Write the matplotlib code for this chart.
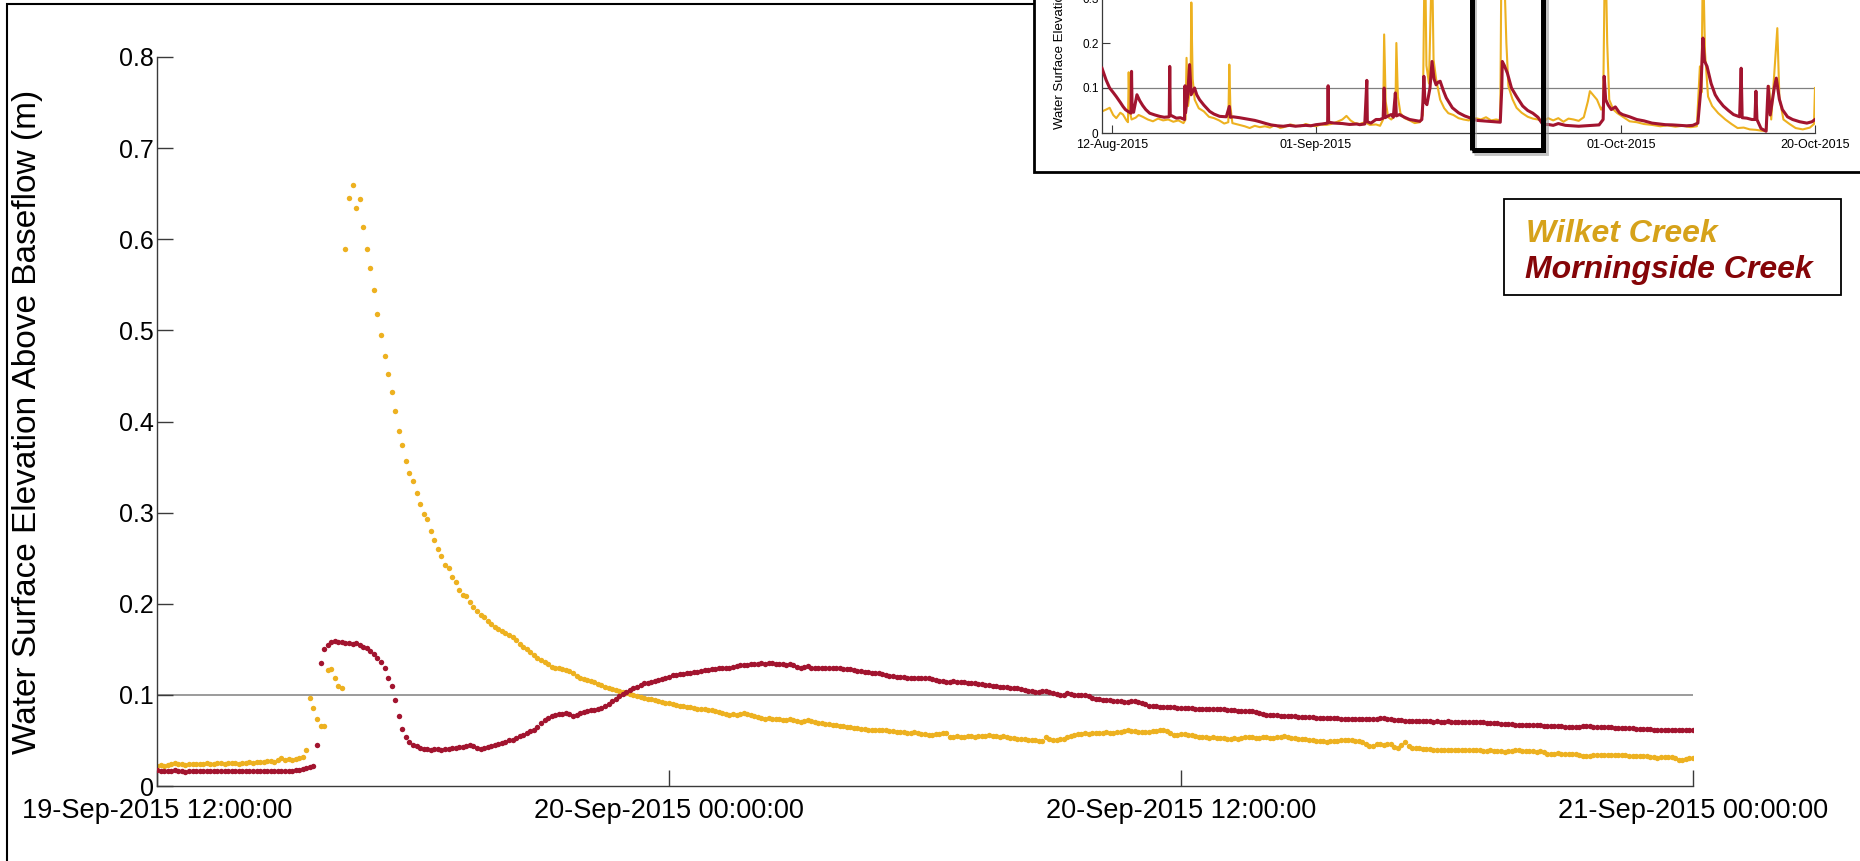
import numpy as np
import matplotlib
matplotlib.use('Agg')
import matplotlib.pyplot as plt
from matplotlib.patches import Rectangle
from datetime import datetime, timedelta

plt.rcParams['font.family'] = ['Liberation Sans', 'DejaVu Sans']

# --- 5-minute readings from 19-Sep-2015 12:00:00, one row per hour (m above baseflow)
wilket_level = [
    [0.022, 0.023, 0.022, 0.023, 0.024, 0.025, 0.024, 0.024, 0.023, 0.024, 0.024, 0.024],
    [0.024, 0.024, 0.025, 0.024, 0.024, 0.025, 0.025, 0.024, 0.025, 0.025, 0.025, 0.024],
    [0.025, 0.025, 0.026, 0.025, 0.026, 0.026, 0.026, 0.027, 0.027, 0.026, 0.028, 0.031],
    [0.029, 0.030, 0.029, 0.030, 0.031, 0.032, 0.040, 0.097, 0.086, 0.073, 0.066, 0.066],
    [0.127, 0.128, 0.119, 0.110, 0.108, 0.589, 0.645, 0.659, 0.634, 0.644, 0.613, 0.589],
    [0.568, 0.544, 0.518, 0.495, 0.472, 0.452, 0.432, 0.411, 0.390, 0.374, 0.357, 0.343],
    [0.335, 0.322, 0.310, 0.299, 0.293, 0.280, 0.270, 0.260, 0.252, 0.242, 0.239, 0.229],
    [0.224, 0.215, 0.210, 0.208, 0.202, 0.196, 0.192, 0.188, 0.185, 0.181, 0.178, 0.175],
    [0.172, 0.170, 0.168, 0.166, 0.163, 0.160, 0.156, 0.153, 0.150, 0.147, 0.144, 0.141],
    [0.138, 0.136, 0.134, 0.131, 0.130, 0.129, 0.128, 0.127, 0.126, 0.124, 0.121, 0.118],
    [0.117, 0.116, 0.115, 0.114, 0.112, 0.111, 0.109, 0.107, 0.106, 0.105, 0.104, 0.103],
    [0.102, 0.101, 0.100, 0.099, 0.098, 0.097, 0.096, 0.095, 0.094, 0.093, 0.092, 0.091],
    [0.091, 0.090, 0.089, 0.088, 0.088, 0.087, 0.087, 0.086, 0.085, 0.084, 0.084, 0.083],
    [0.083, 0.082, 0.081, 0.080, 0.079, 0.078, 0.079, 0.078, 0.079, 0.080, 0.079, 0.078],
    [0.077, 0.076, 0.075, 0.074, 0.075, 0.074, 0.073, 0.073, 0.072, 0.072, 0.073, 0.072],
    [0.071, 0.070, 0.071, 0.072, 0.071, 0.070, 0.069, 0.069, 0.068, 0.068, 0.067, 0.067],
    [0.066, 0.066, 0.065, 0.065, 0.064, 0.064, 0.063, 0.063, 0.062, 0.062, 0.062, 0.061],
    [0.061, 0.061, 0.060, 0.060, 0.059, 0.059, 0.059, 0.058, 0.058, 0.059, 0.058, 0.057],
    [0.057, 0.056, 0.056, 0.057, 0.057, 0.058, 0.058, 0.054, 0.054, 0.055, 0.054, 0.054],
    [0.055, 0.055, 0.054, 0.055, 0.055, 0.055, 0.056, 0.055, 0.055, 0.054, 0.055, 0.054],
    [0.053, 0.053, 0.052, 0.052, 0.052, 0.051, 0.051, 0.050, 0.049, 0.049, 0.054, 0.052],
    [0.051, 0.051, 0.052, 0.052, 0.054, 0.055, 0.056, 0.057, 0.057, 0.058, 0.057, 0.058],
    [0.058, 0.058, 0.058, 0.059, 0.058, 0.058, 0.059, 0.059, 0.060, 0.061, 0.060, 0.060],
    [0.059, 0.059, 0.059, 0.059, 0.060, 0.060, 0.061, 0.062, 0.060, 0.058, 0.056, 0.056],
    [0.057, 0.057, 0.056, 0.056, 0.055, 0.054, 0.054, 0.054, 0.053, 0.054, 0.053, 0.053],
    [0.053, 0.052, 0.052, 0.053, 0.052, 0.053, 0.054, 0.054, 0.054, 0.053, 0.053, 0.054],
    [0.054, 0.053, 0.053, 0.054, 0.054, 0.055, 0.054, 0.053, 0.053, 0.052, 0.052, 0.052],
    [0.051, 0.050, 0.049, 0.049, 0.049, 0.048, 0.049, 0.049, 0.049, 0.050, 0.050, 0.050],
    [0.050, 0.049, 0.049, 0.048, 0.046, 0.044, 0.044, 0.046, 0.046, 0.045, 0.046, 0.046],
    [0.043, 0.042, 0.045, 0.048, 0.044, 0.042, 0.042, 0.042, 0.041, 0.041, 0.041, 0.040],
    [0.040, 0.040, 0.040, 0.039, 0.039, 0.039, 0.039, 0.040, 0.040, 0.040, 0.040, 0.039],
    [0.039, 0.038, 0.038, 0.039, 0.038, 0.038, 0.038, 0.037, 0.038, 0.038, 0.039, 0.039],
    [0.038, 0.038, 0.038, 0.038, 0.037, 0.038, 0.037, 0.035, 0.035, 0.035, 0.036, 0.035],
    [0.035, 0.035, 0.035, 0.035, 0.034, 0.033, 0.033, 0.033, 0.034, 0.034, 0.034, 0.034],
    [0.034, 0.034, 0.034, 0.034, 0.034, 0.034, 0.033, 0.033, 0.033, 0.033, 0.033, 0.033],
    [0.032, 0.032, 0.031, 0.032, 0.032, 0.032, 0.032, 0.031, 0.029, 0.029, 0.030, 0.031],
    [0.031],
]

morningside_level = [
    [0.018, 0.017, 0.017, 0.016, 0.017, 0.018, 0.016, 0.016, 0.015, 0.016, 0.016, 0.016],
    [0.017, 0.016, 0.016, 0.016, 0.017, 0.016, 0.016, 0.017, 0.017, 0.016, 0.016, 0.016],
    [0.017, 0.017, 0.016, 0.016, 0.017, 0.016, 0.016, 0.016, 0.016, 0.016, 0.017, 0.016],
    [0.016, 0.017, 0.017, 0.018, 0.018, 0.019, 0.020, 0.021, 0.022, 0.045, 0.135, 0.150],
    [0.155, 0.158, 0.159, 0.158, 0.158, 0.157, 0.157, 0.156, 0.157, 0.155, 0.153, 0.151],
    [0.148, 0.145, 0.141, 0.136, 0.129, 0.119, 0.110, 0.094, 0.077, 0.063, 0.054, 0.048],
    [0.045, 0.044, 0.042, 0.041, 0.041, 0.040, 0.041, 0.041, 0.040, 0.041, 0.041, 0.042],
    [0.042, 0.043, 0.043, 0.044, 0.045, 0.044, 0.042, 0.041, 0.042, 0.043, 0.044, 0.045],
    [0.046, 0.047, 0.048, 0.050, 0.051, 0.053, 0.055, 0.056, 0.058, 0.060, 0.062, 0.065],
    [0.069, 0.072, 0.075, 0.077, 0.078, 0.079, 0.079, 0.080, 0.079, 0.077, 0.078, 0.080],
    [0.081, 0.082, 0.083, 0.083, 0.085, 0.086, 0.088, 0.090, 0.093, 0.096, 0.099, 0.101],
    [0.103, 0.105, 0.107, 0.109, 0.111, 0.113, 0.113, 0.114, 0.115, 0.116, 0.117, 0.118],
    [0.120, 0.122, 0.122, 0.123, 0.123, 0.124, 0.124, 0.125, 0.125, 0.126, 0.127, 0.127],
    [0.128, 0.128, 0.129, 0.129, 0.129, 0.130, 0.131, 0.132, 0.133, 0.133, 0.133, 0.134],
    [0.134, 0.134, 0.135, 0.134, 0.135, 0.135, 0.134, 0.134, 0.134, 0.133, 0.134, 0.133],
    [0.131, 0.130, 0.131, 0.132, 0.130, 0.129, 0.129, 0.129, 0.130, 0.129, 0.129, 0.129],
    [0.129, 0.128, 0.128, 0.128, 0.127, 0.126, 0.126, 0.125, 0.125, 0.124, 0.124, 0.124],
    [0.123, 0.122, 0.121, 0.121, 0.120, 0.120, 0.120, 0.119, 0.119, 0.119, 0.119, 0.119],
    [0.119, 0.118, 0.117, 0.116, 0.115, 0.115, 0.114, 0.114, 0.115, 0.114, 0.114, 0.114],
    [0.113, 0.113, 0.113, 0.112, 0.112, 0.111, 0.111, 0.110, 0.110, 0.109, 0.109, 0.109],
    [0.108, 0.108, 0.107, 0.106, 0.105, 0.104, 0.104, 0.103, 0.103, 0.104, 0.104, 0.103],
    [0.102, 0.101, 0.100, 0.100, 0.102, 0.101, 0.100, 0.100, 0.100, 0.100, 0.099, 0.097],
    [0.096, 0.095, 0.094, 0.094, 0.094, 0.093, 0.093, 0.093, 0.092, 0.092, 0.093, 0.093],
    [0.092, 0.091, 0.090, 0.088, 0.088, 0.088, 0.087, 0.087, 0.087, 0.087, 0.087, 0.086],
    [0.086, 0.086, 0.086, 0.086, 0.085, 0.085, 0.085, 0.085, 0.085, 0.085, 0.084, 0.084],
    [0.084, 0.083, 0.083, 0.083, 0.082, 0.082, 0.082, 0.082, 0.082, 0.081, 0.080, 0.079],
    [0.078, 0.078, 0.078, 0.078, 0.077, 0.077, 0.077, 0.077, 0.077, 0.076, 0.076, 0.076],
    [0.076, 0.076, 0.075, 0.075, 0.075, 0.075, 0.075, 0.075, 0.075, 0.074, 0.074, 0.074],
    [0.074, 0.074, 0.074, 0.074, 0.073, 0.073, 0.073, 0.074, 0.075, 0.075, 0.074, 0.073],
    [0.072, 0.072, 0.072, 0.071, 0.071, 0.071, 0.071, 0.071, 0.071, 0.071, 0.071, 0.070],
    [0.071, 0.070, 0.070, 0.071, 0.070, 0.070, 0.070, 0.070, 0.070, 0.070, 0.070, 0.070],
    [0.070, 0.070, 0.069, 0.069, 0.069, 0.069, 0.068, 0.068, 0.068, 0.068, 0.067, 0.067],
    [0.067, 0.067, 0.067, 0.067, 0.067, 0.067, 0.066, 0.066, 0.066, 0.066, 0.066, 0.066],
    [0.065, 0.065, 0.065, 0.065, 0.065, 0.066, 0.066, 0.066, 0.065, 0.065, 0.065, 0.065],
    [0.065, 0.065, 0.064, 0.064, 0.064, 0.064, 0.064, 0.064, 0.063, 0.063, 0.063, 0.063],
    [0.063, 0.062, 0.062, 0.062, 0.062, 0.062, 0.062, 0.062, 0.062, 0.062, 0.062, 0.061],
    [0.061],
]

xtick_labels = ['19-Sep-2015 12:00:00', '20-Sep-2015 00:00:00',
                '20-Sep-2015 12:00:00', '21-Sep-2015 00:00:00']
ytick_labels = ['0', '0.1', '0.2', '0.3', '0.4', '0.5', '0.6', '0.7', '0.8']

# --- overview Aug-Oct 2015, days after 11-Aug-2015
overview_wilket_day = [
    0.0, 0.4, 0.75, 1.1, 1.4, 1.8, 2.06, 2.4, 2.55, 2.62, 2.72, 2.9, 3.3, 3.6, 4.0, 4.5, 5.0, 5.5,
    6.0, 6.5, 7.0, 7.5, 8.0, 8.2, 8.3, 8.45, 8.7, 8.77, 8.9, 9.1, 9.5, 10.0, 10.5, 11.0, 11.5,
    12.0, 12.4, 12.5, 12.6, 12.8, 13.5, 14.0, 14.5, 15.0, 15.5, 16.0, 16.5, 17.0, 17.5, 18.0,
    18.5, 19.0, 19.5, 20.0, 20.5, 21.0, 21.5, 22.0, 22.5, 23.0, 23.6, 24.0, 24.4, 24.8, 25.3,
    25.8, 26.3, 26.9, 27.3, 27.6, 27.7, 27.85, 28.1, 28.4, 28.8, 28.9, 29.05, 29.3, 29.7, 30.2,
    30.7, 31.2, 31.5, 31.7, 31.85, 32.1, 32.4, 32.55, 32.8, 33.2, 33.6, 34.0, 34.5, 35.0, 35.5,
    36.0, 36.7, 37.2, 37.7, 38.2, 38.7, 39.1, 39.3, 39.5, 39.7, 39.9, 40.3, 40.7, 41.2, 41.8,
    42.3, 42.8, 43.3, 43.8, 44.3, 44.8, 45.3, 45.8, 46.3, 46.8, 47.3, 47.7, 47.9, 48.2, 48.6,
    49.0, 49.2, 49.4, 49.6, 49.8, 50.2, 50.6, 51.2, 51.8, 52.5, 53.2, 54.0, 54.8, 55.5, 56.3,
    57.0, 57.8, 58.4, 58.7, 58.85, 59.0, 59.2, 59.5, 59.9, 60.5, 61.2, 61.8, 62.4, 63.0, 63.6,
    64.2, 64.8, 65.2, 65.5, 65.7, 66.3, 66.5, 66.9, 67.5, 68.1, 68.8, 69.5, 69.9, 70.0,
]
overview_wilket_level = [
    0.048, 0.052, 0.056, 0.040, 0.033, 0.045, 0.041, 0.028, 0.024, 0.135, 0.050, 0.030, 0.034,
    0.040, 0.036, 0.030, 0.026, 0.032, 0.028, 0.030, 0.025, 0.028, 0.022, 0.030, 0.167, 0.060,
    0.110, 0.290, 0.120, 0.074, 0.055, 0.048, 0.036, 0.033, 0.028, 0.021, 0.024, 0.152, 0.060,
    0.022, 0.018, 0.015, 0.011, 0.016, 0.013, 0.015, 0.012, 0.018, 0.011, 0.014, 0.019, 0.016,
    0.015, 0.020, 0.017, 0.015, 0.019, 0.018, 0.020, 0.024, 0.030, 0.038, 0.028, 0.022, 0.020,
    0.024, 0.018, 0.019, 0.016, 0.030, 0.219, 0.070, 0.035, 0.030, 0.040, 0.200, 0.080, 0.044,
    0.033, 0.028, 0.022, 0.024, 0.040, 0.450, 0.150, 0.110, 0.400, 0.163, 0.120, 0.074, 0.055,
    0.044, 0.040, 0.033, 0.030, 0.028, 0.033, 0.030, 0.035, 0.028, 0.030, 0.028, 0.660, 0.350,
    0.200, 0.104, 0.075, 0.056, 0.045, 0.036, 0.032, 0.030, 0.025, 0.033, 0.028, 0.033, 0.025,
    0.032, 0.030, 0.027, 0.035, 0.070, 0.093, 0.085, 0.074, 0.052, 0.060, 0.450, 0.200, 0.074,
    0.052, 0.044, 0.035, 0.026, 0.024, 0.020, 0.018, 0.015, 0.017, 0.014, 0.016, 0.013, 0.015,
    0.148, 0.090, 0.400, 0.180, 0.081, 0.060, 0.044, 0.030, 0.020, 0.011, 0.012, 0.008, 0.007,
    0.005, 0.004, 0.104, 0.030, 0.233, 0.080, 0.030, 0.020, 0.011, 0.008, 0.012, 0.020, 0.100,
]
overview_morningside_day = [
    0.0, 0.4, 0.75, 1.1, 1.4, 1.8, 2.06, 2.3, 2.55, 2.85, 2.9, 2.95, 3.1, 3.3, 3.43, 3.7, 4.0,
    4.3, 4.68, 5.2, 5.66, 6.1, 6.6, 6.65, 6.7, 7.3, 7.7, 8.1, 8.15, 8.2, 8.4, 8.6, 8.75, 9.09,
    9.3, 9.58, 10.0, 10.57, 11.0, 11.55, 12.2, 12.5, 12.6, 12.86, 13.5, 14.0, 14.5, 15.0, 15.5,
    16.1, 16.6, 17.2, 17.8, 18.4, 19.0, 19.4, 20.0, 20.5, 21.0, 21.6, 22.15, 22.2, 22.25, 22.8,
    23.6, 24.3, 25.0, 25.3, 25.8, 26.0, 26.05, 26.4, 26.9, 27.3, 27.6, 27.7, 27.8, 28.1, 28.4,
    28.6, 28.8, 28.9, 29.2, 29.7, 30.2, 30.7, 31.2, 31.4, 31.5, 31.6, 31.7, 31.9, 32.2, 32.4,
    32.6, 32.8, 33.0, 33.2, 33.5, 33.8, 34.4, 35.0, 35.6, 36.2, 36.8, 37.4, 38.0, 38.6, 39.1,
    39.25, 39.3, 39.5, 39.8, 40.2, 40.7, 41.3, 41.8, 42.3, 42.8, 43.3, 43.8, 44.3, 44.8, 45.5,
    46.2, 46.8, 47.5, 48.2, 48.8, 49.2, 49.3, 49.45, 49.7, 50.0, 50.4, 50.8, 51.1, 51.8, 52.5,
    53.2, 54.0, 54.7, 55.3, 56.0, 56.7, 57.4, 58.0, 58.5, 58.8, 59.0, 59.15, 59.4, 59.8, 60.2,
    60.5, 61.0, 61.5, 62.0, 62.6, 62.75, 62.85, 63.3, 63.8, 64.1, 64.2, 64.3, 64.7, 65.2, 65.4,
    65.6, 66.0, 66.2, 66.5, 66.8, 67.3, 67.8, 68.5, 69.2, 69.7, 70.0,
]
overview_morningside_level = [
    0.144, 0.118, 0.100, 0.090, 0.081, 0.068, 0.059, 0.052, 0.048, 0.044, 0.137, 0.060, 0.046,
    0.070, 0.085, 0.072, 0.061, 0.052, 0.044, 0.040, 0.037, 0.035, 0.036, 0.148, 0.040, 0.033,
    0.034, 0.030, 0.105, 0.045, 0.081, 0.152, 0.085, 0.100, 0.085, 0.074, 0.062, 0.048, 0.042,
    0.037, 0.036, 0.059, 0.035, 0.036, 0.034, 0.032, 0.030, 0.028, 0.025, 0.021, 0.018, 0.016,
    0.015, 0.017, 0.015, 0.016, 0.017, 0.016, 0.0185, 0.020, 0.022, 0.105, 0.024, 0.022, 0.021,
    0.019, 0.020, 0.0185, 0.020, 0.117, 0.025, 0.022, 0.030, 0.030, 0.033, 0.100, 0.034, 0.038,
    0.041, 0.035, 0.089, 0.038, 0.041, 0.035, 0.030, 0.028, 0.026, 0.030, 0.067, 0.126, 0.070,
    0.063, 0.100, 0.159, 0.120, 0.107, 0.113, 0.115, 0.095, 0.078, 0.056, 0.045, 0.038, 0.033,
    0.028, 0.027, 0.026, 0.025, 0.024, 0.100, 0.159, 0.150, 0.133, 0.100, 0.081, 0.060, 0.050,
    0.044, 0.035, 0.0185, 0.019, 0.017, 0.021, 0.017, 0.016, 0.015, 0.016, 0.017, 0.018, 0.030,
    0.126, 0.074, 0.062, 0.052, 0.058, 0.045, 0.041, 0.036, 0.030, 0.027, 0.022, 0.020, 0.0185,
    0.018, 0.017, 0.016, 0.017, 0.022, 0.100, 0.211, 0.160, 0.148, 0.110, 0.085, 0.074, 0.060,
    0.050, 0.041, 0.036, 0.144, 0.034, 0.033, 0.030, 0.030, 0.093, 0.030, 0.010, 0.004, 0.104,
    0.040, 0.100, 0.122, 0.075, 0.052, 0.036, 0.030, 0.025, 0.022, 0.025, 0.030,
]
overview_tick_days = [1, 21, 51, 70]
overview_tick_labels = ['12-Aug-2015', '01-Sep-2015', '01-Oct-2015', '20-Oct-2015']
overview_ytick_labels = ['0', '0.1', '0.2', '0.3']
highlight_days = (36.3, 43.3)

wilket_color = '#EDB120'
morningside_color = '#A2142F'
axis_color = '#3a3a3a'

W, H = 1860, 861
fig = plt.figure(figsize=(W / 100, H / 100), dpi=100)

# --- main zoomed-in storm
wilket = np.concatenate(wilket_level)
morningside = np.concatenate(morningside_level)
start = datetime(2015, 9, 19, 12, 0, 0)
t_w = [start + timedelta(minutes=5 * k) for k in range(len(wilket))]
t_m = [start + timedelta(minutes=5 * k) for k in range(len(morningside))]

ax = fig.add_axes([157 / W, 1 - 786 / H, 1536 / W, 729 / H])
ax.axhline(0.1, color='#808080', lw=1.1, zorder=1)
ax.plot(t_w, wilket, 'o', color=wilket_color, ms=3.9, mew=0, zorder=2)
ax.plot(t_m, morningside, 'o', color=morningside_color, ms=3.9, mew=0, zorder=3)
ax.set_xlim(start, start + timedelta(hours=36))
ax.set_ylim(0, 0.8)
ax.set_xticks([start + timedelta(hours=12 * k) for k in range(4)])
ax.set_xticklabels(xtick_labels, fontsize=19.5)
ax.set_yticks(np.arange(9) / 10)
ax.set_yticklabels(ytick_labels, fontsize=18)
ax.tick_params(axis='x', direction='in', length=11.5, width=1, color=axis_color, pad=8.5)
ax.tick_params(axis='y', direction='in', length=11.5, width=1, color=axis_color, pad=2)
for side in ['top', 'right']:
    ax.spines[side].set_visible(False)
for side in ['left', 'bottom']:
    ax.spines[side].set_color(axis_color)
    ax.spines[side].set_linewidth(1.0)
ax.set_ylabel('Water Surface Elevation Above Baseflow (m)', fontsize=24)
ax.yaxis.set_label_coords(-0.0742, 0.5)

# --- outer slide border
fig.add_artist(Rectangle((7 / W, -0.1), 1.2, 1.1 - 4 / H, transform=fig.transFigure,
                         fill=False, ec='black', lw=1.5, zorder=1))

# --- legend box
fig.add_artist(Rectangle((1504 / W, 1 - 295 / H), 337 / W, 96 / H, transform=fig.transFigure,
                         fc='white', ec='black', lw=1.3, zorder=2))
fig.text(1526 / W, 1 - 242 / H, 'Wilket Creek', color='#D6A21A', fontsize=23,
         fontweight='bold', fontstyle='italic', va='baseline', zorder=3)
fig.text(1525 / W, 1 - 278 / H, 'Morningside Creek', color='#850508', fontsize=23,
         fontweight='bold', fontstyle='italic', va='baseline', zorder=3)

# --- overview inset
fig.add_artist(Rectangle((1034 / W, 1 - 172 / H), 0.5, 0.5, transform=fig.transFigure,
                         fc='white', ec='black', lw=2, zorder=4))
ax_in = fig.add_axes([1102 / W, 1 - 133 / H, 713 / W, 202.5 / H], zorder=5)
ax_in.patch.set_alpha(0)
ax_in.axhline(0.1, color='#808080', lw=0.9, zorder=1)
ax_in.plot(overview_wilket_day, overview_wilket_level, color=wilket_color, lw=1.5, zorder=2)
ax_in.plot(overview_morningside_day, overview_morningside_level, color=morningside_color,
           lw=2.2, zorder=3)
ax_in.set_xlim(0, 70)
ax_in.set_ylim(0, 0.45)
ax_in.set_xticks(overview_tick_days)
ax_in.set_xticklabels(overview_tick_labels, fontsize=9)
ax_in.set_yticks([0, 0.1, 0.2, 0.3])
ax_in.set_yticklabels(overview_ytick_labels, fontsize=8.5)
ax_in.tick_params(direction='in', length=5.5, width=0.8, color=axis_color)
ax_in.tick_params(axis='x', pad=4)
ax_in.tick_params(axis='y', pad=2.5)
for side in ['top', 'right']:
    ax_in.spines[side].set_visible(False)
for side in ['left', 'bottom']:
    ax_in.spines[side].set_color(axis_color)
    ax_in.spines[side].set_linewidth(0.9)
fig.text(1060 / W, 1 - 129 / H, 'Water Surface Elevation Above Baseflow (m)', rotation=90,
         ha='center', va='bottom', fontsize=9.5, zorder=6)

# highlight of the storm shown in the main panel
x0, x1 = highlight_days
ax_in.add_patch(Rectangle((x0 + 0.25, -0.044), x1 - x0, 0.8, fill=False, ec='#9a9a9a',
                          lw=3.5, alpha=0.6, clip_on=False, zorder=6))
ax_in.add_patch(Rectangle((x0, -0.037), x1 - x0, 0.8, fill=False, ec='black',
                          lw=3.6, clip_on=False, zorder=7))

fig.savefig('out.png', dpi=100)
